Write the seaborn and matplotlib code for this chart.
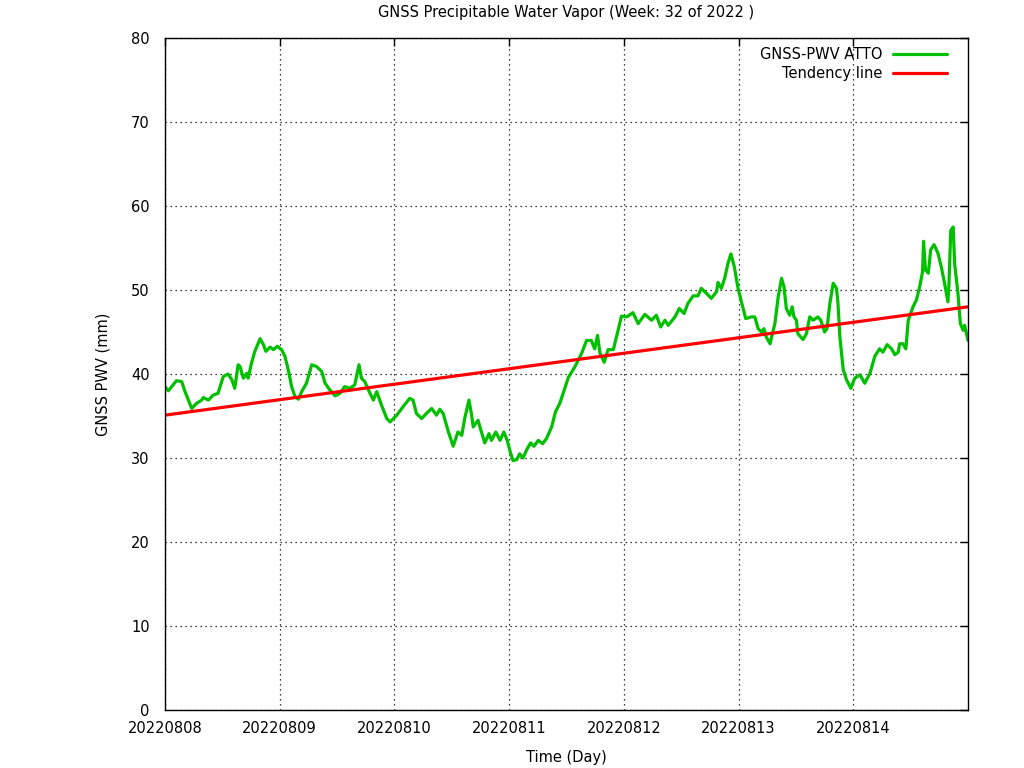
import pandas as pd
import matplotlib
matplotlib.use('Agg')
import matplotlib.pyplot as plt
import seaborn as sns

# hours since 2022-08-08 00:00 and PWV in mm
hours = [0.0, 0.7, 2.4, 3.5, 4.2, 5.6, 6.6, 7.7, 8.0, 9.1, 10.1, 11.1, 12.2, 13.2, 14.0, 14.6,
         15.3, 15.7, 16.4, 17.1, 17.4, 18.1, 18.8, 19.9, 20.6, 21.1, 22.0, 22.7, 23.5, 24.4,
         25.1, 25.8, 26.5, 27.2, 27.9, 28.6, 29.6, 30.7, 31.7, 32.8, 33.5, 34.5, 35.6, 36.6,
         37.6, 38.7, 39.7, 40.6, 41.1, 41.8, 42.9, 43.6, 44.3, 45.3, 46.4, 47.1, 48.5, 49.8,
         51.2, 51.9, 52.6, 53.7, 54.7, 55.8, 56.8, 57.5, 58.2, 59.3, 60.3, 61.3, 62.1, 62.7,
         63.6, 64.1, 64.5, 65.5, 66.0, 66.9, 67.8, 68.3, 69.2, 70.1, 70.9, 71.6, 72.2, 72.8,
         73.6, 74.2, 74.9, 75.7, 76.5, 77.2, 78.1, 79.0, 79.8, 80.9, 81.7, 82.6, 83.3, 84.4,
         85.8, 87.2, 88.2, 89.2, 89.9, 90.5, 91.0, 91.9, 92.7, 93.8, 94.8, 95.5, 96.6, 97.9,
         99.0, 100.4, 101.8, 102.8, 103.7, 104.6, 105.3, 106.7, 107.6, 108.6, 109.4, 110.5,
         111.5, 112.2, 113.3, 114.3, 115.4, 115.7, 116.4, 117.1, 117.8, 118.4, 119.1, 119.9,
         120.6, 121.5, 122.7, 123.4, 124.1, 124.8, 125.3, 125.8, 126.6, 127.0, 127.6, 128.3,
         129.0, 129.5, 130.0, 130.7, 131.2, 131.6, 132.1, 132.4, 133.5, 134.2, 134.9, 135.6,
         136.6, 137.2, 138.0, 138.5, 139.1, 139.8, 140.5, 140.8, 141.2, 141.9, 142.6, 143.5,
         144.3, 145.4, 146.4, 147.5, 148.5, 149.5, 150.2, 151.1, 152.0, 152.7, 153.4, 153.7,
         154.4, 155.0, 155.5, 156.5, 157.2, 157.9, 158.5, 158.7, 159.1, 159.7, 160.2, 160.9,
         161.7, 162.4, 163.1, 163.8, 164.0, 164.4, 164.9, 165.2, 165.9, 166.4, 167.0, 167.3,
         168.0]
pwv = [38.5, 38.0, 39.2, 39.1, 37.9, 35.9, 36.5, 36.9, 37.2, 36.9, 37.5, 37.7, 39.7, 40.0, 39.3, 38.3,
       41.1, 40.9, 39.5, 40.1, 39.5, 41.3, 42.7, 44.2, 43.5, 42.7, 43.2, 42.9, 43.3, 42.9,
       42.1, 40.5, 38.5, 37.3, 37.0, 37.9, 38.9, 41.1, 40.9, 40.3, 38.9, 38.1, 37.4, 37.7,
       38.5, 38.3, 38.7, 41.1, 39.5, 39.1, 37.7, 36.9, 37.9, 36.3, 34.7, 34.3, 35.1, 36.1,
       37.1, 36.9, 35.3, 34.7, 35.3, 35.9, 35.1, 35.8, 35.3, 33.1, 31.4, 33.1, 32.7, 34.7,
       36.9, 35.3, 33.7, 34.5, 33.5, 31.8, 32.9, 32.1, 33.1, 32.1, 33.1, 32.1, 30.8, 29.7,
       29.8, 30.5, 30.0, 31.0, 31.8, 31.4, 32.1, 31.7, 32.3, 33.7, 35.5, 36.5, 37.7, 39.6,
       40.9, 42.5, 44.0, 44.0, 43.0, 44.6, 42.5, 41.4, 42.9, 42.9, 45.2, 46.9, 46.8, 47.3,
       46.0, 47.1, 46.4, 47.0, 45.6, 46.4, 45.8, 46.8, 47.8, 47.2, 48.4, 49.3,
       49.3, 50.2, 49.6, 49.0, 49.8, 50.9, 50.2, 51.4, 53.2, 54.3, 52.8, 50.2,
       48.6, 46.6, 46.8, 46.8, 45.4, 45.0, 45.4, 44.4, 43.6, 44.6, 46.0, 49.2,
       51.4, 50.4, 47.8, 47.0, 48.0, 46.8, 46.4, 44.8, 44.1, 44.8, 46.8, 46.4,
       46.8, 46.4, 45.0, 45.4, 48.4, 50.8, 50.2, 48.4, 44.4, 40.5, 39.3, 38.3,
       39.5, 39.9, 38.9, 40.1, 42.1, 43.0, 42.6, 43.5, 43.0, 42.3, 42.6, 43.6,
       43.6, 43.0, 46.4, 48.0, 48.8, 50.4, 52.2, 55.8, 52.4, 52.0, 54.8, 55.4,
       54.4, 52.8, 50.8, 48.6, 50.4, 57.1, 57.5, 53.2, 49.6, 46.0, 45.2, 45.8,
       44.0]

trend_hours = [0.0, 168.0]
trend_pwv = [35.1, 48.0]

day_labels = ['20220808', '20220809', '20220810', '20220811', '20220812', '20220813', '20220814']

df = pd.DataFrame({'hours': hours, 'pwv': pwv})
trend = pd.DataFrame({'hours': trend_hours, 'pwv': trend_pwv})

sns.set_style('white')
plt.rcParams['font.family'] = ['DejaVu Sans']
plt.rcParams['font.size'] = 10.5
plt.rcParams['text.color'] = 'black'
plt.rcParams['axes.labelcolor'] = 'black'

fig = plt.figure(figsize=(10.24, 7.68), dpi=100)
ax = fig.add_axes([0.1611, 0.0755, 0.7842, 0.875])

sns.lineplot(data=df, x='hours', y='pwv', ax=ax, color='#00c000', linewidth=2.3,
             label='GNSS-PWV ATTO')
sns.lineplot(data=trend, x='hours', y='pwv', ax=ax, color='#ff0000', linewidth=2.3,
             label='Tendency line')

ax.set_xlim(0, 168)
ax.set_ylim(0, 80)
ax.set_xticks([24 * i for i in range(len(day_labels))])
ax.set_xticklabels(day_labels)
ax.set_yticks(range(0, 81, 10))
ax.tick_params(direction='in', length=6, width=1, top=True, right=True,
               labelsize=10.5, colors='black')
ax.tick_params(axis='x', pad=8)
ax.tick_params(axis='y', pad=11)
ax.grid(True, color='black', linestyle=(0, (1, 3)), linewidth=0.9)
for s in ax.spines.values():
    s.set_color('black')
    s.set_linewidth(1)

ax.set_xlabel('Time (Day)', fontsize=10.5, labelpad=10)
ax.set_ylabel('GNSS PWV (mm)', fontsize=10.5, labelpad=15)
ax.set_title('GNSS Precipitable Water Vapor (Week: 32 of 2022 )', fontsize=10.5, pad=15)

leg = ax.legend(loc='upper right', bbox_to_anchor=(947 / 1024, 1 - 47 / 768),
                bbox_transform=fig.transFigure, frameon=False, markerfirst=False,
                handlelength=3.7, handletextpad=0.75, fontsize=10.5,
                borderaxespad=0, borderpad=0, labelspacing=0.3)

fig.savefig('out.png', dpi=100)
